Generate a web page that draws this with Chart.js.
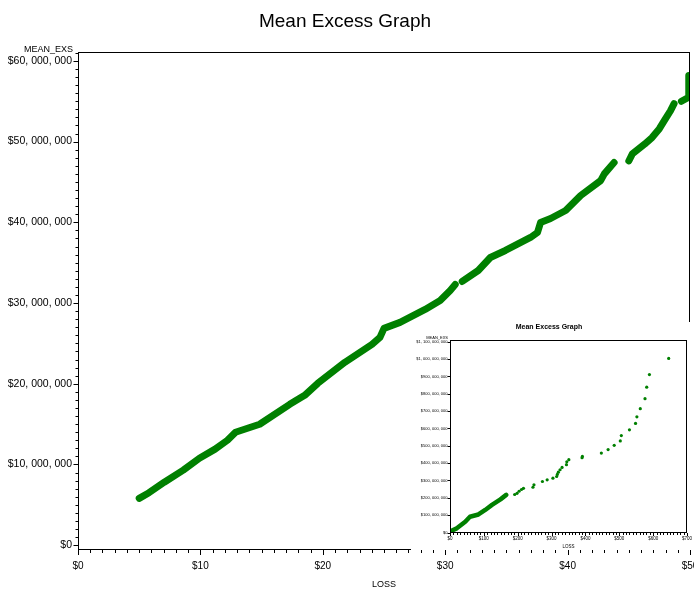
<!DOCTYPE html>
<html>
<head>
<meta charset="utf-8">
<script src="https://cdn.jsdelivr.net/npm/chart.js@4/dist/chart.umd.min.js"></script>
<style>
  html, body { margin: 0; padding: 0; background: #fff; }
  #wrap { position: relative; width: 694px; height: 589px; overflow: hidden; }
  #main { position: absolute; left: 0; top: 0; }
  #inset { position: absolute; left: 411px; top: 322px; background: #fff; }
</style>
</head>
<body>
<div id="wrap">
  <canvas id="main" width="694" height="589"></canvas>
  <canvas id="inset" width="283" height="228"></canvas>
</div>
<script>
// ---- main plot: mean excess for losses up to $50 (null = break in the curve)
const lossX = [
  5.0, 5.8, 7.05, 8.6, 9.92, 11.2, 12.21, 12.87, 14.84, 17.3, 18.52, 19.59,
  21.8, 24.02, 24.67, 25.0, 26.31, 28.36, 29.59, 30.41, 30.82, null,
  31.39, 32.7, 33.69, 34.92, 36.97, 37.54, 37.79, 38.61, 39.84, 41.07,
  42.7, 43.0, 43.8, null,
  45.0, 45.3, 46.3, 46.9, 47.5, 47.9, 48.4, 48.7, null,
  49.3, 49.9, 49.9
];
const meanExcess = [
  5800000, 6500000, 7800000, 9300000, 10770000, 11900000, 13000000, 13990000, 14980000, 17450000, 18560000, 20050000,
  22650000, 24880000, 25740000, 26860000, 27600000, 29210000, 30320000, 31560000, 32300000, null,
  32670000, 34030000, 35640000, 36510000, 38120000, 38740000, 39970000, 40470000, 41460000, 43320000,
  45170000, 46000000, 47400000, null,
  47600000, 48500000, 49700000, 50500000, 51600000, 52600000, 53800000, 54700000, null,
  55000000, 55500000, 58200000
];
const xTicks = [0, 10, 20, 30, 40, 50];
const xTickLabels = ['$0', '$10', '$20', '$30', '$40', '$50'];
const yTicks = [0, 10000000, 20000000, 30000000, 40000000, 50000000, 60000000];
const yTickLabels = ['$0', '$10, 000, 000', '$20, 000, 000', '$30, 000, 000', '$40, 000, 000', '$50, 000, 000', '$60, 000, 000'];

// ---- inset plot: the full range of losses
const insetDenseX = [2, 20, 45, 59, 84, 104, 124, 149, 166];
const insetDenseY = [8000000, 24000000, 62000000, 91000000, 104000000, 130000000, 159000000, 191000000, 217000000];
const insetSparseX = [191, 198, 204, 211, 217, 245, 248, 273, 287, 304, 315, 317, 320, 325, 331, 344, 345, 351,
  390, 391, 447, 467, 485, 503, 506, 530, 548, 552, 562, 576, 581, 589, 646];
const insetSparseY = [219000000, 226000000, 238000000, 248000000, 255000000, 261000000, 275000000, 294000000,
  304000000, 313000000, 323000000, 335000000, 348000000, 362000000, 375000000, 391000000, 408000000, 420000000,
  431000000, 439000000, 458000000, 478000000, 503000000, 528000000, 559000000, 592000000, 629000000, 667000000,
  714000000, 772000000, 838000000, 911000000, 1004000000];
const insetXTicks = [0, 100, 200, 300, 400, 500, 600, 700];
const insetXTickLabels = ['$0', '$100', '$200', '$300', '$400', '$500', '$600', '$700'];
const insetYTicks = [0, 100e6, 200e6, 300e6, 400e6, 500e6, 600e6, 700e6, 800e6, 900e6, 1000e6, 1100e6];
const insetYTickLabels = ['$0', '$100, 000, 000', '$200, 000, 000', '$300, 000, 000', '$400, 000, 000',
  '$500, 000, 000', '$600, 000, 000', '$700, 000, 000', '$800, 000, 000', '$900, 000, 000',
  '$1, 000, 000, 000', '$1, 100, 000, 000'];

const GREEN = '#008000';
const FONT = "'Liberation Sans', Arial, sans-serif";

function pairs(xs, ys) {
  return xs.map((x, i) => ({ x: x === null ? NaN : x, y: ys[i] }));
}

// frame around the plot area, tick marks (major + minor) and the corner axis name
const framePlugin = {
  id: 'frame',
  afterDraw(chart, args, o) {
    const { ctx, chartArea: a, scales: { x, y } } = chart;
    ctx.save();
    ctx.strokeStyle = '#000';
    ctx.lineWidth = 1;
    ctx.strokeRect(Math.round(a.left) + 0.5, Math.round(a.top) + 0.5,
      Math.round(a.right - a.left) - 1, Math.round(a.bottom - a.top) - 1);
    ctx.beginPath();
    const bottom = Math.round(a.bottom);
    for (let v = x.min; v <= x.max + 1e-9; v += o.xMinor) {
      const px = Math.round(x.getPixelForValue(v)) + 0.5;
      const major = Math.abs(v / o.xMajor - Math.round(v / o.xMajor)) < 1e-6;
      ctx.moveTo(px, bottom);
      ctx.lineTo(px, bottom + (major ? o.majorLen : o.minorLen));
    }
    const left = Math.round(a.left) + 0.5;
    for (let v = 0; v <= y.max + 1e-3; v += o.yMinor) {
      const py = Math.round(y.getPixelForValue(v)) + 0.5;
      const major = Math.abs(v / o.yMajor - Math.round(v / o.yMajor)) < 1e-6;
      ctx.moveTo(left, py);
      ctx.lineTo(left - (major ? o.majorLen : o.minorLen), py);
    }
    ctx.stroke();
    ctx.fillStyle = '#000';
    ctx.font = o.nameFont;
    ctx.textAlign = 'right';
    ctx.textBaseline = 'alphabetic';
    ctx.fillText(o.name, o.nameX, o.nameY);
    ctx.restore();
  }
};

function fixedTicks(values) {
  return (scale) => { scale.ticks = values.map(v => ({ value: v })); };
}
function fitX(h) {
  return (s) => { s.height = h; s.paddingLeft = 0; s.paddingRight = 0; };
}
function fitY(w) {
  return (s) => { s.width = w; s.paddingTop = 0; s.paddingBottom = 0; };
}
const noGrid = { display: false, drawTicks: false, tickLength: 0 };

// ---------------- main chart
new Chart(document.getElementById('main'), {
  type: 'scatter',
  data: {
    datasets: [{
      data: pairs(lossX, meanExcess),
      showLine: true,
      spanGaps: false,
      borderColor: GREEN,
      backgroundColor: GREEN,
      borderWidth: 7,
      borderCapStyle: 'round',
      borderJoinStyle: 'round',
      pointRadius: 0
    }]
  },
  options: {
    responsive: false,
    animation: false,
    devicePixelRatio: 1,
    layout: { padding: { left: 0, right: 4, top: 0, bottom: 0 } },
    plugins: {
      legend: { display: false },
      tooltip: { enabled: false },
      title: {
        display: true,
        text: 'Mean Excess Graph',
        color: '#000',
        font: { family: FONT, size: 19, weight: 'normal', lineHeight: 1.2 },
        padding: { top: 10, bottom: 19.2 }
      },
      frame: {
        xMinor: 1, xMajor: 10, yMinor: 1000000, yMajor: 10000000,
        majorLen: 5, minorLen: 3,
        name: 'MEAN_EXS', nameFont: '9px ' + FONT, nameX: 73, nameY: 52
      }
    },
    scales: {
      x: {
        type: 'linear', min: 0, max: 50,
        afterBuildTicks: fixedTicks(xTicks),
        afterFit: fitX(39),
        grid: noGrid,
        border: { display: false },
        ticks: {
          color: '#000', padding: 10, maxRotation: 0, autoSkip: false,
          font: { family: FONT, size: 10 },
          callback: (v) => xTickLabels[xTicks.indexOf(v)]
        },
        title: {
          display: true, text: 'LOSS', color: '#000',
          font: { family: FONT, size: 9, lineHeight: 1 },
          padding: { top: 0, bottom: 0 }
        }
      },
      y: {
        type: 'linear', min: -600000, max: 61100000,
        afterBuildTicks: fixedTicks(yTicks),
        afterFit: fitY(78),
        grid: noGrid,
        border: { display: false },
        ticks: {
          color: '#000', padding: 6, autoSkip: false,
          font: { family: FONT, size: 10.5 },
          callback: (v) => yTickLabels[yTicks.indexOf(v)]
        }
      }
    }
  },
  plugins: [framePlugin]
});

// ---------------- inset chart
new Chart(document.getElementById('inset'), {
  type: 'scatter',
  data: {
    datasets: [{
      data: pairs(insetDenseX, insetDenseY),
      showLine: true,
      borderColor: GREEN,
      backgroundColor: GREEN,
      borderWidth: 4.5,
      borderCapStyle: 'round',
      borderJoinStyle: 'round',
      pointRadius: 0
    }, {
      data: pairs(insetSparseX, insetSparseY),
      showLine: false,
      borderColor: GREEN,
      backgroundColor: GREEN,
      pointRadius: 1.6,
      pointBorderWidth: 0
    }]
  },
  options: {
    responsive: false,
    animation: false,
    devicePixelRatio: 1,
    layout: { padding: { left: 0, right: 7, top: 0, bottom: 0 } },
    plugins: {
      legend: { display: false },
      tooltip: { enabled: false },
      title: {
        display: true,
        text: 'Mean Excess Graph',
        color: '#000',
        font: { family: FONT, size: 7, weight: 'bold', lineHeight: 1.2 },
        padding: { top: 0.8, bottom: 8.3 }
      },
      frame: {
        xMinor: 10, xMajor: 100, yMinor: 100000000, yMajor: 100000000,
        majorLen: 3, minorLen: 2,
        name: 'MEAN_EXS', nameFont: '4px ' + FONT, nameX: 37, nameY: 17
      }
    },
    scales: {
      x: {
        type: 'linear', min: 0, max: 700,
        afterBuildTicks: fixedTicks(insetXTicks),
        afterFit: fitX(17.5),
        grid: noGrid,
        border: { display: false },
        ticks: {
          color: '#000', padding: 3.8, maxRotation: 0, autoSkip: false,
          font: { family: FONT, size: 4.5 },
          callback: (v) => insetXTickLabels[insetXTicks.indexOf(v)]
        },
        title: {
          display: true, text: 'LOSS', color: '#000',
          font: { family: FONT, size: 4.5, lineHeight: 1 },
          padding: { top: 0, bottom: 1.25 }
        }
      },
      y: {
        type: 'linear', min: 0, max: 1113000000,
        afterBuildTicks: fixedTicks(insetYTicks),
        afterFit: fitY(39),
        grid: noGrid,
        border: { display: false },
        ticks: {
          color: '#000', padding: 2.5, autoSkip: false,
          font: { family: FONT, size: 4 },
          callback: (v) => insetYTickLabels[insetYTicks.indexOf(v)]
        }
      }
    }
  },
  plugins: [framePlugin]
});
</script>
</body>
</html>
